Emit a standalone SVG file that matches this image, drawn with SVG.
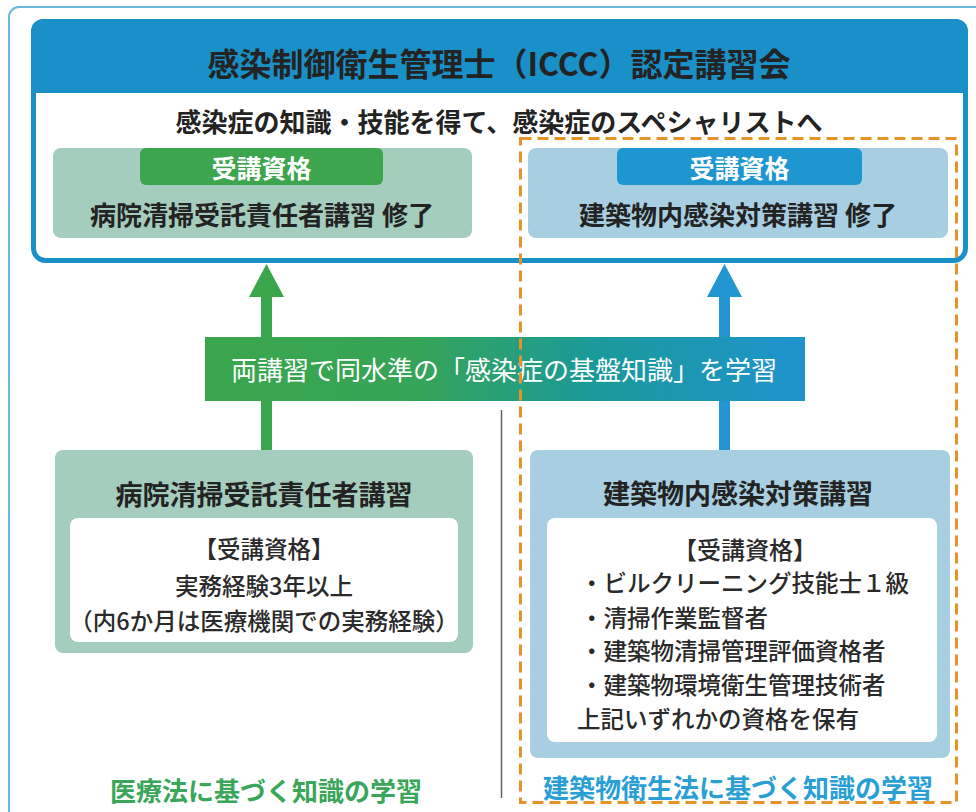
<svg xmlns="http://www.w3.org/2000/svg" width="976" height="812" viewBox="0 0 976 812">
<defs>
<linearGradient id="band" x1="0" y1="0" x2="1" y2="0">
<stop offset="0" stop-color="#3aa64c"/>
<stop offset="0.35" stop-color="#36a457"/>
<stop offset="0.65" stop-color="#1a9a9a"/>
<stop offset="1" stop-color="#1f93cf"/>
</linearGradient>
</defs>
<style>
text{font-family:"Noto Sans CJK JP","Noto Sans",sans-serif;text-anchor:middle;dominant-baseline:central}
.b{font-weight:bold}
.dark{fill:#232323}
.wht{fill:#ffffff}
.body{font-size:23.5px;fill:#2a2a2a;font-weight:500}
.g{fill:#a5cdbe}
.bl{fill:#a8cfe1}
</style>
<rect x="9" y="7" width="990" height="830" rx="10" fill="none" stroke="#6ab8df" stroke-width="2"/>

<g id="main">
<rect x="33.5" y="21.5" width="932" height="239" rx="12" fill="#ffffff" stroke="#1a90c9" stroke-width="5"/>
<path d="M31 93 V31 A12 12 0 0 1 43 19 H956 A12 12 0 0 1 968 31 V93 Z" fill="#1a90c9"/>
<text x="499" y="62" class="b dark" font-size="32">感染制御衛生管理士（ICCC）認定講習会</text>
<text x="499" y="120" class="b dark" font-size="26">感染症の知識・技能を得て、感染症のスペシャリストへ</text>
</g>

<g id="req-left">
<rect x="53" y="148" width="419" height="90" rx="8" class="g"/>
<rect x="140" y="148" width="243" height="37" rx="6" fill="#3ca54d"/>
<text x="261.5" y="167" class="b wht" font-size="25">受講資格</text>
<text x="262" y="213" class="b dark" font-size="26">病院清掃受託責任者講習 修了</text>
</g>

<g id="req-right">
<rect x="528" y="148" width="420" height="90" rx="8" class="bl"/>
<rect x="617" y="148" width="245" height="37" rx="6" fill="#1e96cf"/>
<text x="739.5" y="167" class="b wht" font-size="25">受講資格</text>
<text x="738" y="213" class="b dark" font-size="26">建築物内感染対策講習 修了</text>
</g>

<g id="connectors">
<rect x="261" y="292" width="11" height="160" fill="#3aa64c"/>
<polygon points="266.5,264 249,297 284,297" fill="#3aa64c"/>
<rect x="719" y="292" width="11" height="160" fill="#2196d0"/>
<polygon points="724.5,264 707,297 742,297" fill="#2196d0"/>
<line x1="501.5" y1="410" x2="501.5" y2="798" stroke="#5a6270" stroke-width="1.5"/>
</g>

<g id="banner">
<rect x="205" y="337" width="600" height="64" fill="url(#band)"/>
<text x="504" y="368" class="wht" font-size="26">両講習で同水準の「感染症の基盤知識」を学習</text>
</g>

<g id="course-left">
<rect x="55" y="450" width="418" height="203" rx="8" class="g"/>
<text x="264" y="493" class="b dark" font-size="27">病院清掃受託責任者講習</text>
<rect x="70" y="518" width="388" height="124" rx="8" fill="#ffffff"/>
<text x="264" y="548" class="body" font-size="24">【受講資格】</text>
<text x="264" y="585" class="body">実務経験3年以上</text>
<text x="264" y="620" class="body">（内6か月は医療機関での実務経験）</text>
</g>

<g id="course-right">
<rect x="530" y="450" width="420" height="308" rx="8" class="bl"/>
<text x="738" y="492" class="b dark" font-size="27">建築物内感染対策講習</text>
<rect x="547" y="518" width="390" height="224" rx="8" fill="#ffffff"/>
<text x="745" y="548" class="body" style="font-size:24px">【受講資格】</text>
<text x="580" y="582" class="body" style="text-anchor:start">・ビルクリーニング技能士１級</text>
<text x="580" y="617" class="body" style="text-anchor:start">・清掃作業監督者</text>
<text x="580" y="650" class="body" style="text-anchor:start">・建築物清掃管理評価資格者</text>
<text x="580" y="684" class="body" style="text-anchor:start">・建築物環境衛生管理技術者</text>
<text x="577" y="718" class="body" style="text-anchor:start">上記いずれかの資格を保有</text>
</g>

<g id="law-left">
<text x="266" y="789" class="b" font-size="26" fill="#3aa65a">医療法に基づく知識の学習</text>
</g>
<g id="law-right">
<text x="738" y="786" class="b" font-size="26" fill="#2a9fd6">建築物衛生法に基づく知識の学習</text>
</g>

<rect id="scope" x="520.5" y="138.5" width="436" height="664" fill="none" stroke="#e8922c" stroke-width="3" stroke-dasharray="11 6"/>
</svg>
